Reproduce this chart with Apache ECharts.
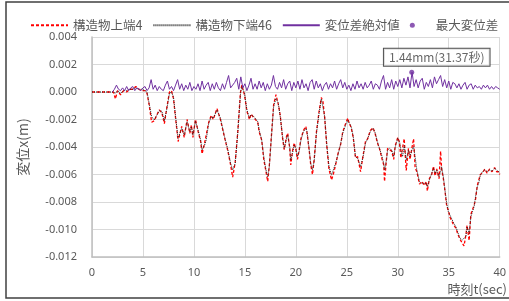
<!DOCTYPE html>
<html><head><meta charset="utf-8">
<script src="https://cdn.jsdelivr.net/npm/echarts@6/dist/echarts.min.js"></script>
<style>html,body{margin:0;padding:0;background:#fff}#c{width:509px;height:301px}</style>
</head><body><div id="c"></div>
<script>
// time (sec) for structure top / bottom series
var times = [0,2.1,2.3,2.5,2.8,3.1,3.4,3.7,4.0,4.3,4.6,4.9,5.2,5.4,5.6,5.85,6.1,6.35,6.6,6.85,7.1,7.35,7.6,7.8,8.0,8.2,8.45,8.8,9.05,9.33,9.6,9.75,9.9,10.15,10.45,10.66,10.8,11.05,11.2,11.45,11.7,11.9,12.26,12.6,13.0,13.3,13.6,13.8,14.05,14.3,14.57,14.7,14.96,15.2,15.45,15.6,15.9,16.26,16.4,16.65,16.85,17.07,17.24,17.4,17.63,17.82,18.05,18.28,18.47,18.7,18.86,19.09,19.2,19.4,19.5,19.67,19.84,20.0,20.16,20.33,20.5,20.74,20.98,21.1,21.3,21.46,21.63,21.8,22.02,22.28,22.5,22.66,22.83,23.02,23.25,23.5,23.67,23.9,24.13,24.4,24.6,24.88,25.1,25.2,25.43,25.63,25.85,26.06,26.35,26.6,26.83,27.05,27.3,27.58,27.8,28.0,28.2,28.46,28.62,28.7,28.9,29.0,29.2,29.4,29.6,29.75,30.0,30.17,30.3,30.47,30.63,30.83,31.05,31.2,31.38,31.55,31.7,31.87,32.13,32.36,32.6,32.8,32.9,33.1,33.33,33.5,33.66,33.82,34.05,34.2,34.3,34.47,34.63,34.8,34.96,35.12,35.3,35.5,35.7,35.87,36.1,36.33,36.5,36.68,36.8,37.0,37.17,37.33,37.5,37.63,37.8,37.95,38.1,38.3,38.54,38.76,39.0,39.25,39.5,39.7,39.9,40.0];
// 構造物下端46 (m)
var lowerVals = [0,0,-0.0001,0.0001,-0.0001,0.0001,0.0001,0.0002,0.0002,0.0003,0.0002,0.0002,0.0001,0.0000,-0.0008,-0.0018,-0.00204,-0.0017,-0.00136,-0.0014,-0.0021,-0.0012,-0.0001,0.0000,-0.0004,-0.0018,-0.00337,-0.00264,-0.00313,-0.00216,-0.00289,-0.00252,-0.00313,-0.00211,-0.00289,-0.00349,-0.00422,-0.00385,-0.0035,-0.00228,-0.0018,-0.0019,-0.00131,-0.0019,-0.00325,-0.0041,-0.00519,-0.00567,-0.0052,-0.0030,-0.0001,0.0004,-0.0001,-0.0013,-0.0019,-0.00167,-0.0018,-0.00216,-0.00276,-0.00349,-0.0047,-0.00567,-0.00616,-0.00543,-0.003,-0.00107,-0.00046,-0.00082,-0.0018,-0.00325,-0.0041,-0.00337,-0.00313,-0.00398,-0.00495,-0.00446,-0.00385,-0.0041,-0.0047,-0.0043,-0.00349,-0.00289,-0.00264,-0.0029,-0.0041,-0.00519,-0.00567,-0.0050,-0.003,-0.00155,-0.0005,-0.0006,-0.0018,-0.00373,-0.00543,-0.00604,-0.00604,-0.00519,-0.00458,-0.00373,-0.003,-0.0024,-0.00204,-0.0021,-0.00252,-0.00325,-0.0047,-0.00482,-0.00543,-0.0047,-0.00373,-0.00337,-0.00289,-0.00264,-0.0030,-0.00361,-0.0041,-0.0047,-0.00519,-0.00567,-0.0049,-0.00422,-0.0041,-0.00422,-0.0047,-0.0040,-0.00337,-0.0036,-0.00422,-0.0047,-0.0039,-0.00495,-0.00422,-0.0047,-0.00422,-0.00398,-0.0047,-0.00567,-0.00652,-0.00664,-0.00664,-0.00664,-0.00689,-0.0064,-0.00591,-0.00555,-0.00591,-0.00567,-0.00616,-0.0058,-0.00543,-0.00616,-0.00713,-0.0081,-0.0087,-0.00895,-0.00907,-0.00955,-0.0098,-0.01016,-0.01064,-0.01076,-0.01089,-0.0105,-0.0098,-0.01028,-0.00907,-0.0087,-0.0083,-0.00761,-0.00689,-0.0066,-0.00604,-0.0058,-0.00567,-0.0058,-0.00567,-0.00575,-0.00555,-0.00567,-0.0058,-0.0059];
// 構造物上端4 (m)
var upperVals = [0,0,-0.0005,0.0001,-0.0002,0.0001,0.0000,0.0002,0.0002,0.0004,0.0002,0.0001,0.0001,-0.0001,-0.0009,-0.0022,-0.0021,-0.0017,-0.0013,-0.0015,-0.0023,-0.0011,0.0000,0.0001,-0.0005,-0.0019,-0.0036,-0.0025,-0.0033,-0.0020,-0.0030,-0.0024,-0.0033,-0.0020,-0.0030,-0.0036,-0.0045,-0.0037,-0.0036,-0.0022,-0.0017,-0.0020,-0.0012,-0.0020,-0.0033,-0.0042,-0.0053,-0.0062,-0.0051,-0.0029,0.0000,0.0005,-0.0002,-0.0014,-0.0020,-0.0016,-0.0019,-0.0022,-0.0029,-0.0035,-0.0049,-0.0058,-0.0065,-0.0053,-0.0029,-0.0009,-0.0002,-0.0009,-0.0017,-0.0034,-0.0042,-0.0032,-0.0030,-0.0041,-0.0053,-0.0043,-0.0037,-0.0042,-0.0049,-0.0042,-0.0034,-0.0028,-0.0025,-0.0030,-0.0042,-0.0053,-0.0060,-0.0049,-0.0029,-0.0014,-0.0004,-0.0007,-0.0019,-0.0038,-0.0056,-0.0064,-0.0060,-0.0053,-0.0045,-0.0038,-0.0029,-0.0023,-0.0019,-0.0022,-0.0026,-0.0033,-0.0048,-0.0047,-0.0058,-0.0046,-0.0036,-0.0034,-0.0028,-0.0026,-0.0031,-0.0037,-0.0041,-0.0049,-0.0053,-0.0065,-0.0048,-0.0041,-0.0042,-0.0043,-0.0049,-0.0039,-0.0033,-0.0037,-0.0048,-0.0048,-0.0034,-0.0057,-0.0041,-0.0049,-0.0041,-0.0034,-0.0055,-0.0058,-0.0067,-0.0065,-0.0068,-0.0065,-0.0072,-0.0063,-0.0060,-0.0054,-0.0061,-0.0056,-0.0063,-0.0043,-0.0056,-0.0063,-0.0072,-0.0083,-0.0086,-0.0091,-0.0090,-0.0097,-0.0099,-0.0103,-0.0107,-0.0110,-0.0112,-0.0104,-0.0097,-0.0108,-0.0089,-0.0088,-0.0082,-0.0078,-0.0068,-0.0067,-0.0060,-0.0059,-0.0056,-0.0059,-0.0056,-0.0058,-0.0055,-0.0058,-0.0058,-0.0060];
// 変位差絶対値 (m), sampled every 0.2 s from 2.0 s
var diffStart = 2.0, diffStep = 0.2;
var diffVals = [
0,0.0002,0.0005,0.0002,0.0001,0.0003,0.0001,0.0004,0.0001,0.0003,
0.0004,0.0001,0.0003,0.0002,0.0001,0.0003,0.0004,0.0001,0.0003,0.0009,
0.0002,0.0005,0.0001,0.0004,0.0002,0.0001,0.0005,0.0008,0.0002,0.0004,
0.0001,0.0005,0.0009,0.0002,0.0006,0.0001,0.0005,0.0002,0.0007,0.0001,
0.0004,0.0002,0.0006,0.0001,0.0008,0.0002,0.0005,0.0007,0.0001,0.0006,
0.0002,0.0007,0.0003,0.0001,0.0006,0.0002,0.0007,0.0012,0.0003,0.0005,
0.0007,0.0010,0.0002,0.0011,0.0003,0.0006,0.0001,0.0005,0.0010,0.0002,
0.0006,0.0002,0.0008,0.0003,0.0007,0.0001,0.0006,0.0002,0.0005,0.0012,
0.0004,0.0002,0.0007,0.0003,0.0009,0.0002,0.0006,0.0008,0.0001,0.0007,
0.0003,0.0008,0.0002,0.0009,0.0003,0.0006,0.0001,0.0007,0.0009,0.0002,
0.0008,0.0003,0.0006,0.0001,0.0005,0.0007,0.0002,0.0006,0.0003,0.0008,
0.0002,0.0006,0.0009,0.0003,0.0007,0.0002,0.0005,0.0001,0.0006,0.0002,
0.0008,0.0003,0.0006,0.0002,0.0007,0.0003,0.0005,0.0008,0.0002,0.0006,
0.0005,0.0002,0.0008,0.0012,0.0002,0.0007,0.0003,0.0009,0.0002,0.0008,
0.0004,0.0009,0.0003,0.0010,0.0005,0.0011,0.0003,0.00144,0.0004,0.0009,
0.0003,0.0008,0.0010,0.0002,0.0007,0.0004,0.0009,0.0003,0.0011,0.0006,
0.0009,0.0012,0.0004,0.0009,0.0003,0.0008,0.0002,0.0007,0.0006,0.0003,
0.0006,0.0002,0.0005,0.0007,0.0002,0.0005,0.0006,0.0002,0.0005,0.0003,
0.0004,0.0002,0.0005,0.0003,0.0005,0.0002,0.0004,0.0002,0.0004,0.0003,
0.0002];
// 最大変位差
var maxPoint = [31.37, 0.00144];
var maxLabel = '1.44mm(31.37秒)';
var seriesNames = ['構造物上端4','構造物下端46','変位差絶対値','最大変位差'];
var xTicks = {min:0, max:40, interval:5};
var yTicks = {min:-0.012, max:0.004, interval:0.002};

function pairs(xs, ys){ return ys.map(function(v,i){ return [xs[i], v]; }); }
var diffTimes = diffVals.map(function(_, i){ return +(diffStart + i*diffStep).toFixed(2); });

var txt = '#595959';
var font = '"Noto Sans CJK JP","Noto Sans",sans-serif';
var chart = echarts.init(document.getElementById('c'), null, {renderer:'canvas'});
chart.setOption({
  animation:false,
  backgroundColor:'#fff',
  textStyle:{fontFamily:font},
  grid:{left:92, right:7, top:37, bottom:44, containLabel:false},
  legend:{
    left:25, top:14, itemWidth:37, itemHeight:5, itemGap:10,
    textStyle:{color:txt, fontSize:12.5, fontFamily:font},
    data:[
      {name:seriesNames[0], itemStyle:{opacity:0}},
      {name:seriesNames[1], itemStyle:{opacity:0}},
      {name:seriesNames[2], itemStyle:{opacity:0}},
      {name:seriesNames[3]}
    ]
  },
  xAxis:{
    type:'value', min:xTicks.min, max:xTicks.max, interval:xTicks.interval,
    axisLine:{onZero:false, lineStyle:{color:'#bfbfbf', width:1.5}},
    axisTick:{show:false},
    axisLabel:{color:txt, fontSize:11, margin:10, fontFamily:'"Noto Sans",sans-serif'},
    splitLine:{show:true, lineStyle:{color:'#d9d9d9', width:1}}
  },
  yAxis:{
    type:'value', min:yTicks.min, max:yTicks.max, interval:yTicks.interval,
    name:'変位x(m)', nameLocation:'middle', nameGap:62,
    nameTextStyle:{color:txt, fontSize:14, fontFamily:font},
    axisLine:{show:true, lineStyle:{color:'#bfbfbf', width:1.5}},
    axisTick:{show:false},
    axisLabel:{color:txt, fontSize:11, margin:15, fontFamily:'"Noto Sans",sans-serif',
      formatter:function(v){ return v.toFixed(3); }},
    splitLine:{show:true, lineStyle:{color:'#d9d9d9', width:1}}
  },
  graphic:[
    {type:'rect', shape:{x:6, y:2, width:520, height:296}, style:{fill:null, stroke:'#404040', lineWidth:1.5}, silent:true},
    {type:'text', right:2, top:283, style:{text:'時刻t(sec)', fill:txt, font:'13px '+font}}
  ],
  series:[
    {name:seriesNames[0], type:'line', symbol:'none', data:pairs(times, upperVals),
     lineStyle:{color:'#ff0000', width:1.3, type:[3,2]}, itemStyle:{color:'#ff0000'}, z:2},
    {name:seriesNames[1], type:'line', symbol:'none', data:pairs(times, lowerVals),
     lineStyle:{color:'#262626', width:1, type:[1,1]}, itemStyle:{color:'#262626'}, z:3},
    {name:seriesNames[2], type:'line', symbol:'none', data:pairs(diffTimes, diffVals),
     lineStyle:{color:'#7030a0', width:1}, itemStyle:{color:'#7030a0'}, z:4},
    {name:seriesNames[3], type:'scatter', symbol:'circle', symbolSize:5, data:[maxPoint],
     itemStyle:{color:'#7030a0'}, z:5,
     label:{show:true, position:'top', distance:4, offset:[25,0], formatter:maxLabel,
       color:'#404040', fontSize:12, fontFamily:font, backgroundColor:'#fff',
       borderColor:'#262626', borderWidth:1, padding:[3,5,2,5]}}
  ]
});
</script></body></html>
